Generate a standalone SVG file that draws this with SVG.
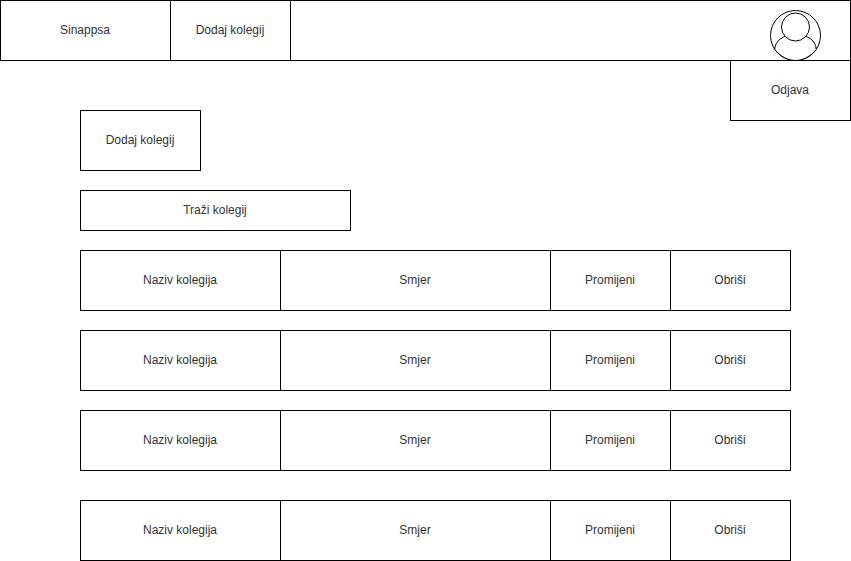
<svg xmlns="http://www.w3.org/2000/svg" width="851" height="561" viewBox="0 0 851 561">
<style>
rect,circle,path{fill:#fff;stroke:#000;stroke-width:1}
text{font-family:"Liberation Sans",Arial,sans-serif;font-size:12px;fill:#333;text-anchor:middle}
</style>
<rect x="-1" y="-1" width="853" height="563" style="fill:#fff;stroke:none"/>
<g id="topbar"><rect x="0.5" y="0.5" width="850" height="60"/></g>
<g id="sinappsa"><rect x="0.5" y="0.5" width="170" height="60"/><text x="85" y="34">Sinappsa</text></g>
<g id="nav-dodaj"><rect x="170.5" y="0.5" width="120" height="60"/><text x="230" y="34">Dodaj kolegij</text></g>
<g id="avatar"><circle cx="795.5" cy="35.5" r="25"/><path d="M774.8 49.500C774.800 41 783 34.500 795.500 34.500C808 34.500 816.200 41 816.200 49.500C810.500 56.500 803 60.500 795.500 60.500C788 60.500 780.500 56.500 774.800 49.500Z"/><circle cx="795.500" cy="27" r="14"/></g>
<g id="odjava"><rect x="730.500" y="60.500" width="120" height="60"/><text x="790" y="94">Odjava</text></g>
<g id="dodaj"><rect x="80.500" y="110.500" width="120" height="60"/><text x="140" y="144">Dodaj kolegij</text></g>
<g id="trazi"><rect x="80.500" y="190.500" width="270" height="40"/><text x="215" y="214">Traži kolegij</text></g>
<g id="row1"><rect x="80.500" y="250.500" width="200" height="60"/><text x="180" y="284">Naziv kolegija</text><rect x="280.500" y="250.500" width="270" height="60"/><text x="415" y="284">Smjer</text><rect x="550.500" y="250.500" width="120" height="60"/><text x="610" y="284">Promijeni</text><rect x="670.500" y="250.500" width="120" height="60"/><text x="730" y="284">Obriši</text></g>
<g id="row2"><rect x="80.500" y="330.500" width="200" height="60"/><text x="180" y="364">Naziv kolegija</text><rect x="280.500" y="330.500" width="270" height="60"/><text x="415" y="364">Smjer</text><rect x="550.500" y="330.500" width="120" height="60"/><text x="610" y="364">Promijeni</text><rect x="670.500" y="330.500" width="120" height="60"/><text x="730" y="364">Obriši</text></g>
<g id="row3"><rect x="80.500" y="410.500" width="200" height="60"/><text x="180" y="444">Naziv kolegija</text><rect x="280.500" y="410.500" width="270" height="60"/><text x="415" y="444">Smjer</text><rect x="550.500" y="410.500" width="120" height="60"/><text x="610" y="444">Promijeni</text><rect x="670.500" y="410.500" width="120" height="60"/><text x="730" y="444">Obriši</text></g>
<g id="row4"><rect x="80.500" y="500.500" width="200" height="60"/><text x="180" y="534">Naziv kolegija</text><rect x="280.500" y="500.500" width="270" height="60"/><text x="415" y="534">Smjer</text><rect x="550.500" y="500.500" width="120" height="60"/><text x="610" y="534">Promijeni</text><rect x="670.500" y="500.500" width="120" height="60"/><text x="730" y="534">Obriši</text></g>
<g id="connectors"></g>
</svg>
